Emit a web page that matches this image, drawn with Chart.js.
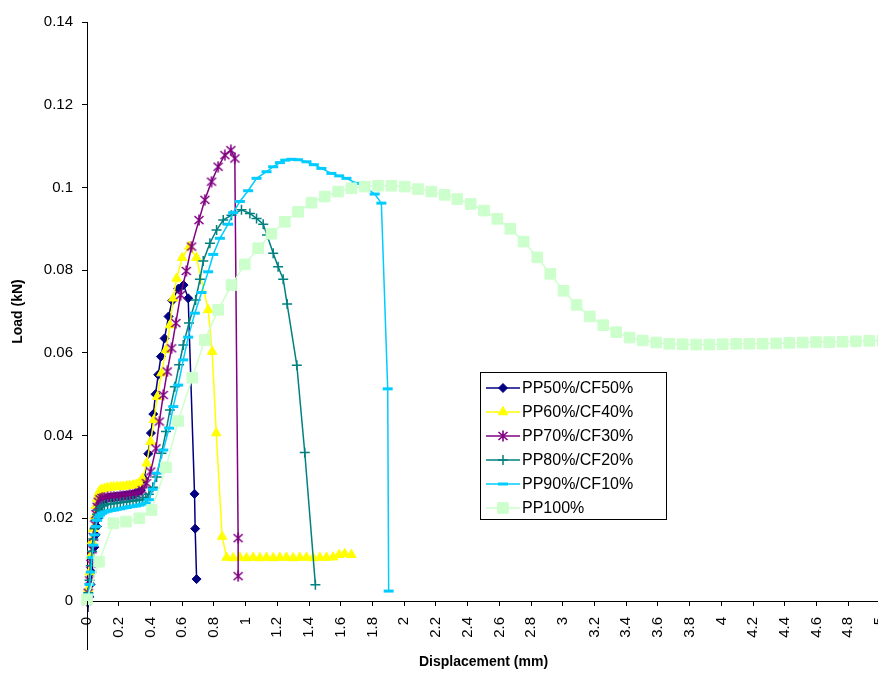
<!DOCTYPE html>
<html>
<head>
<meta charset="utf-8">
<script src="https://cdn.jsdelivr.net/npm/chart.js@4/dist/chart.umd.min.js"></script>
<style>
  html, body { margin: 0; padding: 0; background: #fff; overflow: hidden; }
  #wrap { position: relative; width: 909px; height: 673px; }
</style>
</head>
<body>
<div id="wrap"><canvas id="chart" width="909" height="673"></canvas></div>
<script>
// series labels
const seriesNames = ['PP50%/CF50%', 'PP60%/CF40%', 'PP70%/CF30%', 'PP80%/CF20%', 'PP90%/CF10%', 'PP100%'];

// PP50%/CF50%
const pp50X = [0, 0.006, 0.014, 0.022, 0.03, 0.038, 0.046, 0.054, 0.062, 0.07,
  0.08, 0.09, 0.1, 0.12, 0.14, 0.16, 0.18, 0.2, 0.22, 0.24,
  0.26, 0.28, 0.3, 0.32, 0.34, 0.36, 0.386, 0.403, 0.418, 0.432,
  0.449, 0.466, 0.489, 0.514, 0.537, 0.575, 0.609, 0.638, 0.678, 0.682, 0.691];
const pp50Y = [-0.0025, -0.002, 0.001, 0.004, 0.007, 0.010, 0.013, 0.016, 0.018, 0.020,
  0.0218, 0.0232, 0.0242, 0.0248, 0.025, 0.0251, 0.0252, 0.0253, 0.0254, 0.0255,
  0.0256, 0.0257, 0.0259, 0.0262, 0.0268, 0.0295, 0.0356, 0.0406, 0.0452, 0.05,
  0.0547, 0.0591, 0.0635, 0.0688, 0.0726, 0.0755, 0.0764, 0.0732, 0.0259, 0.0175, 0.0053];

// PP60%/CF40%
const pp60X = [0, 0.008, 0.016, 0.024, 0.032, 0.04, 0.048, 0.056, 0.064, 0.072,
  0.08, 0.092, 0.11, 0.13, 0.15, 0.17, 0.19, 0.21, 0.23, 0.25,
  0.27, 0.29, 0.31, 0.33, 0.35, 0.376, 0.401, 0.422, 0.443, 0.47,
  0.498, 0.523, 0.544, 0.565, 0.6, 0.645, 0.69, 0.764, 0.789, 0.815,
  0.852, 0.88, 0.922, 0.964, 1.006, 1.048, 1.09, 1.132, 1.174, 1.216,
  1.258, 1.3, 1.342, 1.384, 1.426, 1.468, 1.51, 1.552, 1.59, 1.625, 1.667];
const pp60Y = [0, 0.003, 0.007, 0.011, 0.0145, 0.0175, 0.0205, 0.023, 0.0248, 0.026,
  0.0266, 0.027, 0.0272, 0.0274, 0.0275, 0.0276, 0.0276, 0.0277, 0.0277, 0.0278,
  0.0279, 0.028, 0.0282, 0.0286, 0.0296, 0.0333, 0.0385, 0.0438, 0.0494, 0.0551,
  0.0607, 0.0667, 0.0732, 0.078, 0.083, 0.0857, 0.083, 0.0704, 0.0603, 0.0406,
  0.0156, 0.0105, 0.0104, 0.0105, 0.0104, 0.0105, 0.0104, 0.0105, 0.0104, 0.0105,
  0.0105, 0.0104, 0.0105, 0.0105, 0.0104, 0.0105, 0.0105, 0.0106, 0.0112, 0.0114, 0.0112];

// PP70%/CF30%
const pp70X = [0, 0.008, 0.016, 0.024, 0.032, 0.04, 0.048, 0.056, 0.064, 0.072,
  0.082, 0.095, 0.11, 0.13, 0.15, 0.17, 0.19, 0.21, 0.23, 0.25,
  0.27, 0.29, 0.31, 0.33, 0.35, 0.375, 0.401, 0.435, 0.456, 0.481,
  0.506, 0.533, 0.56, 0.59, 0.626, 0.659, 0.706, 0.743, 0.785, 0.827,
  0.869, 0.907, 0.932, 0.953, 0.953];
const pp70Y = [0, 0.002, 0.005, 0.009, 0.0125, 0.0155, 0.0185, 0.021, 0.0228, 0.024,
  0.0246, 0.0249, 0.025, 0.0251, 0.0251, 0.0252, 0.0252, 0.0253, 0.0254, 0.0255,
  0.0256, 0.0257, 0.0259, 0.0262, 0.0268, 0.0285, 0.0313, 0.0369, 0.0434, 0.0498,
  0.0555, 0.0611, 0.0672, 0.074, 0.0798, 0.0857, 0.0921, 0.097, 0.1014, 0.105,
  0.1078, 0.109, 0.107, 0.0152, 0.006];

// PP80%/CF20%
const pp80X = [0, 0.008, 0.016, 0.024, 0.032, 0.04, 0.048, 0.056, 0.064, 0.072,
  0.082, 0.095, 0.11, 0.13, 0.15, 0.17, 0.19, 0.21, 0.23, 0.25,
  0.27, 0.29, 0.31, 0.33, 0.35, 0.37, 0.39, 0.415, 0.439, 0.47,
  0.498, 0.523, 0.554, 0.581, 0.607, 0.643, 0.685, 0.712, 0.733, 0.775,
  0.817, 0.859, 0.911, 0.974, 1.027, 1.069, 1.111, 1.135, 1.174, 1.205,
  1.237, 1.262, 1.323, 1.373, 1.44];
const pp80Y = [0, 0.002, 0.005, 0.0085, 0.012, 0.015, 0.0175, 0.0195, 0.021, 0.022,
  0.0226, 0.023, 0.0232, 0.0234, 0.0235, 0.0236, 0.0237, 0.0238, 0.0239, 0.024,
  0.0241, 0.0242, 0.0243, 0.0244, 0.0246, 0.025, 0.0258, 0.0275, 0.03, 0.0357,
  0.041, 0.0462, 0.0518, 0.0571, 0.0619, 0.0672, 0.0728, 0.0778, 0.0822, 0.0865,
  0.0897, 0.0921, 0.0933, 0.0946, 0.0937, 0.0925, 0.0911, 0.0885, 0.0841, 0.0808,
  0.0778, 0.0718, 0.057, 0.0359, 0.0039];

// PP90%/CF10%
const pp90X = [0, 0.008, 0.016, 0.024, 0.032, 0.04, 0.048, 0.056, 0.064, 0.072,
  0.082, 0.095, 0.11, 0.13, 0.15, 0.17, 0.19, 0.21, 0.23, 0.25,
  0.27, 0.29, 0.31, 0.33, 0.35, 0.37, 0.39, 0.415, 0.439, 0.481,
  0.518, 0.544, 0.575, 0.607, 0.638, 0.68, 0.722, 0.764, 0.796, 0.838,
  0.89, 0.922, 0.964, 1.016, 1.069, 1.132, 1.174, 1.216, 1.25, 1.289,
  1.33, 1.384, 1.43, 1.478, 1.541, 1.59, 1.636, 1.699, 1.75, 1.814,
  1.856, 1.896, 1.902];
const pp90Y = [0, 0.0015, 0.004, 0.007, 0.0105, 0.0135, 0.016, 0.018, 0.0195, 0.0203,
  0.0208, 0.0212, 0.0215, 0.0217, 0.0219, 0.022, 0.0222, 0.0223, 0.0225, 0.0226,
  0.0228, 0.0229, 0.023, 0.0232, 0.0234, 0.0237, 0.0245, 0.027, 0.0309, 0.0365,
  0.0418, 0.047, 0.0522, 0.0583, 0.0638, 0.0696, 0.0746, 0.0796, 0.0838, 0.0877,
  0.0911, 0.0939, 0.0966, 0.0992, 0.1022, 0.1038, 0.105, 0.106, 0.1066, 0.1068,
  0.1067, 0.1062, 0.1055, 0.1046, 0.1034, 0.1028, 0.1022, 0.101, 0.1002, 0.0984,
  0.0962, 0.0513, 0.0024];

// PP100%
const pp100X = [0, 0.076, 0.166, 0.246, 0.33, 0.407, 0.498, 0.575, 0.664, 0.743,
  0.827, 0.911, 0.995, 1.079, 1.163, 1.247, 1.331, 1.415, 1.499, 1.583,
  1.667, 1.751, 1.835, 1.919, 2.003, 2.087, 2.171, 2.255, 2.335, 2.419,
  2.503, 2.587, 2.669, 2.753, 2.839, 2.921, 3.005, 3.087, 3.17, 3.255,
  3.337, 3.421, 3.504, 3.589, 3.672, 3.756, 3.841, 3.924, 4.008, 4.093,
  4.176, 4.26, 4.345, 4.428, 4.512, 4.597, 4.68, 4.764, 4.848, 4.932, 5.016];
const pp100Y = [0.0004, 0.0095, 0.0188, 0.0192, 0.02, 0.022, 0.0323, 0.0435, 0.054, 0.0631,
  0.0704, 0.0764, 0.0814, 0.0853, 0.0888, 0.0917, 0.0941, 0.0963, 0.0978, 0.099,
  0.0998, 0.1002, 0.1004, 0.1004, 0.1002, 0.0996, 0.099, 0.0982, 0.0972, 0.096,
  0.0944, 0.0924, 0.09, 0.0869, 0.0831, 0.0791, 0.075, 0.0716, 0.0688, 0.0667,
  0.065, 0.0637, 0.063, 0.0625, 0.0622, 0.0621, 0.062, 0.062, 0.0621, 0.0622,
  0.0622, 0.0622, 0.0623, 0.0624, 0.0625, 0.0626, 0.0626, 0.0627, 0.0628, 0.0629, 0.063];

// axis ranges / tick steps
const xMin = 0, xMax = 5, xStep = 0.2;
const yMin = 0, yMax = 0.14, yStep = 0.02;

const FONT = '"Liberation Sans", Arial, Helvetica, sans-serif';

function pts(xs, ys) {
  return xs.map((x, i) => ({x: x, y: ys[i]}));
}

// spreadsheet style asterisk: an X with a vertical bar through it
function asteriskMarker(color) {
  const c = document.createElement('canvas');
  c.width = 12; c.height = 12;
  const g = c.getContext('2d');
  g.strokeStyle = color;
  g.lineWidth = 1.6;
  g.beginPath();
  g.moveTo(1.5, 2); g.lineTo(10.5, 10);
  g.moveTo(10.5, 2); g.lineTo(1.5, 10);
  g.moveTo(6, 0.5); g.lineTo(6, 11.5);
  g.stroke();
  return c;
}

function series(i, xs, ys, color, style, radius, pbw, fill) {
  return {
    label: seriesNames[i],
    data: pts(xs, ys),
    showLine: true,
    borderColor: color,
    backgroundColor: color,
    borderWidth: 1.5,
    pointStyle: style,
    pointRadius: radius,
    pointBorderWidth: pbw,
    pointBorderColor: color,
    pointBackgroundColor: fill,
    tension: 0,
    clip: 12,
    order: 10 - i   // later series drawn on top, like the original
  };
}

// legend drawn inside the plot, like the spreadsheet one
const boxLegend = {
  id: 'boxLegend',
  afterDraw(chart) {
    const ctx = chart.ctx;
    ctx.save();
    ctx.strokeStyle = '#000';
    ctx.lineWidth = 1;
    ctx.strokeRect(480.5, 372.5, 186, 147);
    ctx.font = '16px ' + FONT;
    ctx.textBaseline = 'middle';
    ctx.textAlign = 'left';
    chart.data.datasets.forEach(function(ds, i) {
      const y = 388 + i * 24;
      ctx.strokeStyle = ds.borderColor;
      ctx.lineWidth = ds.borderWidth;
      ctx.beginPath();
      ctx.moveTo(486, y);
      ctx.lineTo(520, y);
      ctx.stroke();
      if (Chart.helpers && Chart.helpers.drawPoint) {
        ctx.fillStyle = ds.pointBackgroundColor;
        ctx.strokeStyle = ds.pointBorderColor;
        ctx.lineWidth = ds.pointBorderWidth;
        Chart.helpers.drawPoint(ctx, {pointStyle: ds.pointStyle, radius: ds.pointRadius, rotation: 0, borderWidth: ds.pointBorderWidth}, 503, y);
      }
      ctx.fillStyle = '#000';
      ctx.fillText(ds.label, 522, y + 1);
    });
    ctx.restore();
  }
};

// value axis line runs a bit past the category axis, as in the original
const axisTail = {
  id: 'axisTail',
  afterDraw(chart) {
    const a = chart.chartArea, ctx = chart.ctx;
    ctx.save();
    ctx.strokeStyle = '#000';
    ctx.lineWidth = 1;
    ctx.beginPath();
    ctx.moveTo(Math.round(a.left) + 0.5, a.bottom);
    ctx.lineTo(Math.round(a.left) + 0.5, 650);
    ctx.stroke();
    ctx.restore();
  }
};

const ctx = document.getElementById('chart');
new Chart(ctx, {
  type: 'scatter',
  data: {
    datasets: [
      series(0, pp50X, pp50Y, '#000080', 'rectRot', 4.5, 1, '#000080'),
      series(1, pp60X, pp60Y, '#FFFF00', 'triangle', 5.5, 1, '#FFFF00'),
      series(2, pp70X, pp70Y, '#800080', asteriskMarker('#800080'), 6, 1.5, 'rgba(0,0,0,0)'),
      series(3, pp80X, pp80Y, '#008080', 'cross', 5, 1.5, 'rgba(0,0,0,0)'),
      series(4, pp90X, pp90Y, '#00CCFF', 'line', 5, 3, '#00CCFF'),
      series(5, pp100X, pp100Y, '#CCFFCC', 'rect', 7.5, 1, '#CCFFCC')
    ]
  },
  options: {
    responsive: false,
    animation: false,
    layout: {padding: {left: 0, right: 0, top: 22, bottom: 0}},
    plugins: {
      legend: {display: false},
      tooltip: {enabled: false}
    },
    scales: {
      x: {
        type: 'linear',
        min: xMin,
        max: xMax,
        afterFit: function(scale) { scale.height = 72; },
        border: {display: true, color: '#000', width: 1},
        grid: {display: true, drawOnChartArea: false, drawTicks: true, tickLength: 5, color: '#000'},
        ticks: {
          stepSize: xStep,
          autoSkip: false,
          minRotation: 90,
          maxRotation: 90,
          padding: 11,
          color: '#000',
          font: {family: FONT, size: 15},
          callback: function(v) { return String(Number(v.toFixed(1))); }
        },
        title: {
          display: true,
          text: 'Displacement (mm)',
          color: '#000',
          font: {family: FONT, size: 14, weight: 'bold'},
          padding: {top: 0, bottom: 2}
        }
      },
      y: {
        type: 'linear',
        min: yMin,
        max: yMax,
        afterFit: function(scale) { scale.width = 87; },
        border: {display: true, color: '#000', width: 1},
        grid: {display: true, drawOnChartArea: false, drawTicks: true, tickLength: 5, color: '#000'},
        ticks: {
          stepSize: yStep,
          padding: 9,
          color: '#000',
          font: {family: FONT, size: 15},
          callback: function(v) { return String(Number(v.toFixed(2))); }
        },
        title: {
          display: true,
          text: 'Load (kN)',
          color: '#000',
          font: {family: FONT, size: 14, weight: 'bold'},
          padding: {top: 10, bottom: 0}
        }
      }
    }
  },
  plugins: [boxLegend, axisTail]
});
</script>
</body>
</html>
